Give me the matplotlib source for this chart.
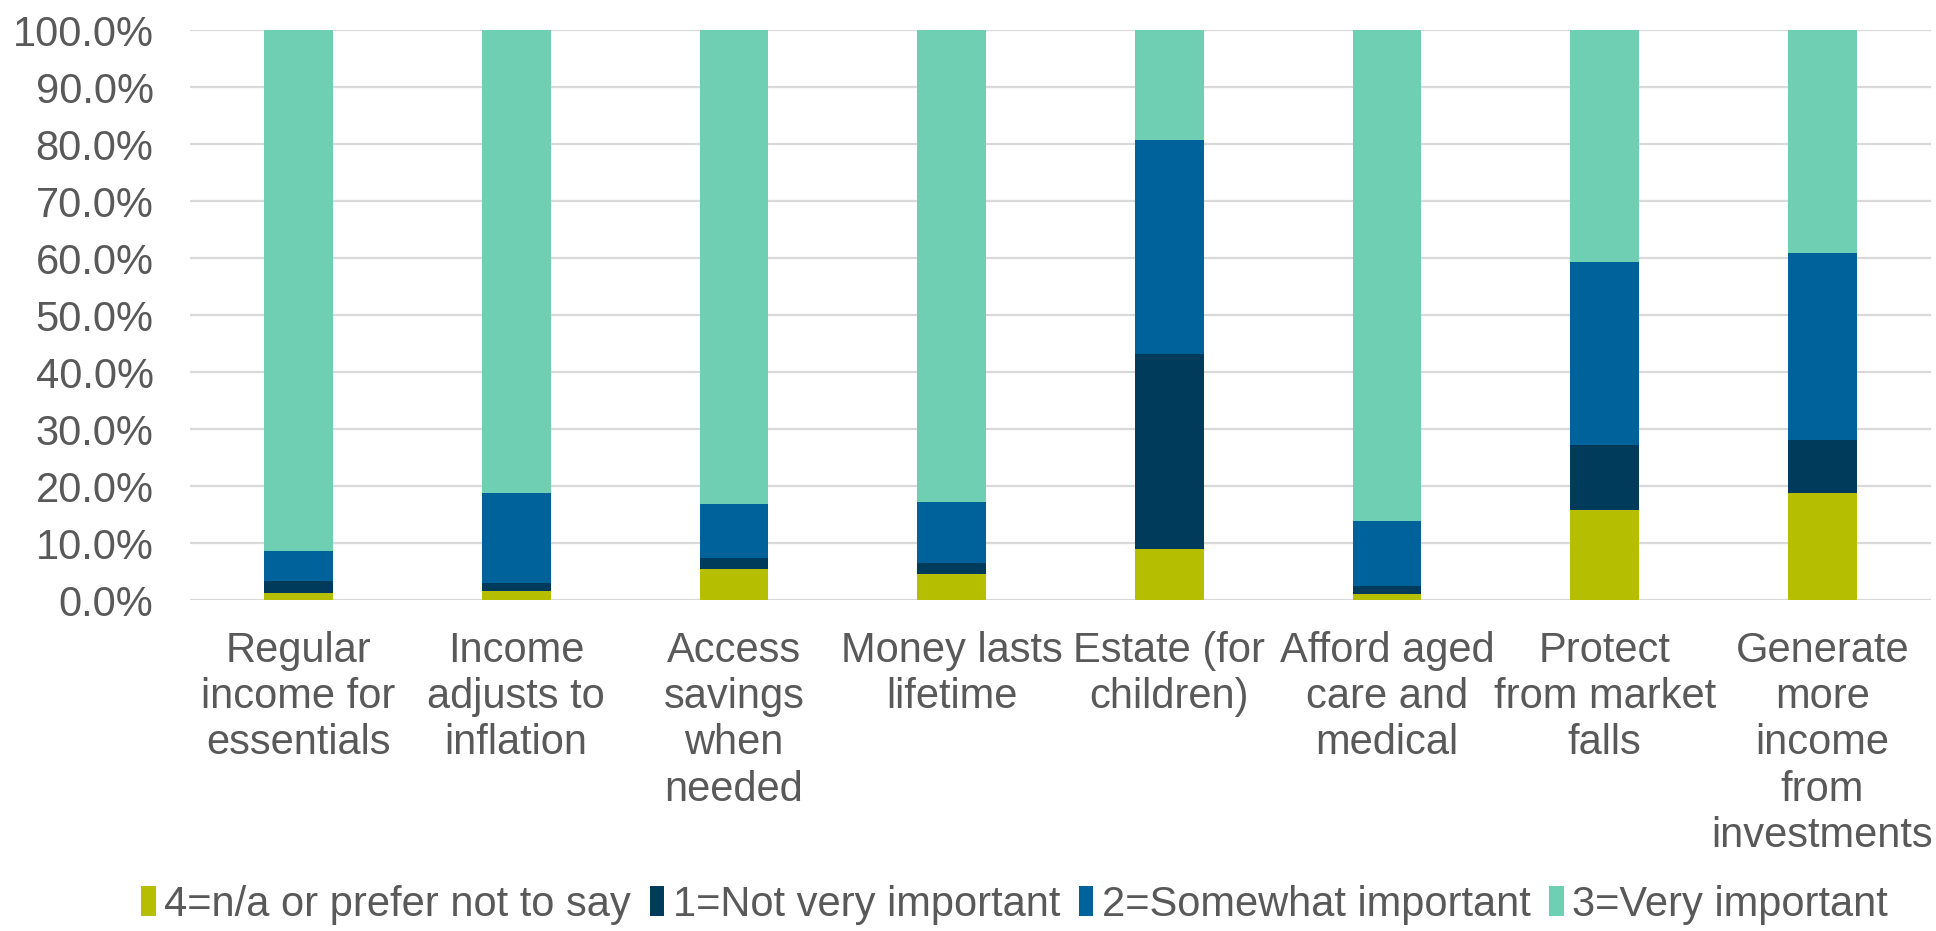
import numpy as np
import matplotlib
matplotlib.use("Agg")
import matplotlib.pyplot as plt
from matplotlib.ticker import PercentFormatter

plt.rcParams['font.family'] = ['Liberation Sans', 'DejaVu Sans']

# survey categories (x axis)
categories = [
    "Regular\nincome for\nessentials",
    "Income\nadjusts to\ninflation",
    "Access\nsavings\nwhen\nneeded",
    "Money lasts\nlifetime",
    "Estate (for\nchildren)",
    "Afford aged\ncare and\nmedical",
    "Protect\nfrom market\nfalls",
    "Generate\nmore\nincome\nfrom\ninvestments",
]

# share of responses per answer, in percent
na_prefer_not = [1.3, 1.6, 5.6, 4.7, 9.0, 1.1, 15.8, 18.9]
not_very = [2.1, 1.5, 1.8, 1.8, 34.3, 1.5, 11.4, 9.2]
somewhat = [5.3, 15.7, 9.6, 10.8, 37.5, 11.4, 32.1, 32.9]
very = [91.3, 81.2, 83.0, 82.7, 19.2, 86.0, 40.7, 39.0]

series_labels = ["4=n/a or prefer not to say", "1=Not very important",
                 "2=Somewhat important", "3=Very important"]
colors = ["#B5BE00", "#003B5C", "#00629B", "#6FCFB3"]

text_col = "#595959"
fs = 30

fig = plt.figure(figsize=(19.36, 9.31), dpi=100)
ax = fig.add_axes([0.098, 0.355, 0.8995, 0.6125])

x = np.arange(len(categories))
bottom = np.zeros(len(categories))
for vals, lab, col in zip([na_prefer_not, not_very, somewhat, very], series_labels, colors):
    v = np.array(vals) / 100.0
    ax.bar(x, v, width=0.316, bottom=bottom, color=col, label=lab, zorder=3)
    bottom += v

ax.set_xlim(-0.5, len(categories) - 0.5)
ax.set_ylim(0, 1.0)
ax.set_yticks(np.arange(0, 1.01, 0.1))
ax.yaxis.set_major_formatter(PercentFormatter(1.0, decimals=1))
ax.grid(axis='y', color='#D9D9D9', linewidth=1.6, zorder=0)
ax.set_axisbelow(True)
for s in ax.spines.values():
    s.set_visible(False)

ax.set_xticks(x)
ax.set_xticklabels(categories, fontsize=fs, color=text_col, linespacing=1.2)
ax.tick_params(axis='x', length=0, pad=22)
ax.tick_params(axis='y', length=0, pad=26, labelsize=fs, labelcolor=text_col)

fig.legend(loc='lower center', bbox_to_anchor=(0.524, 0.0), borderaxespad=0.05,
           ncol=4, frameon=False, borderpad=0.1,
           fontsize=fs, labelcolor=text_col, handlelength=0.35, handleheight=0.75,
           handletextpad=0.2, columnspacing=0.45)

fig.savefig("out.png", dpi=100)
